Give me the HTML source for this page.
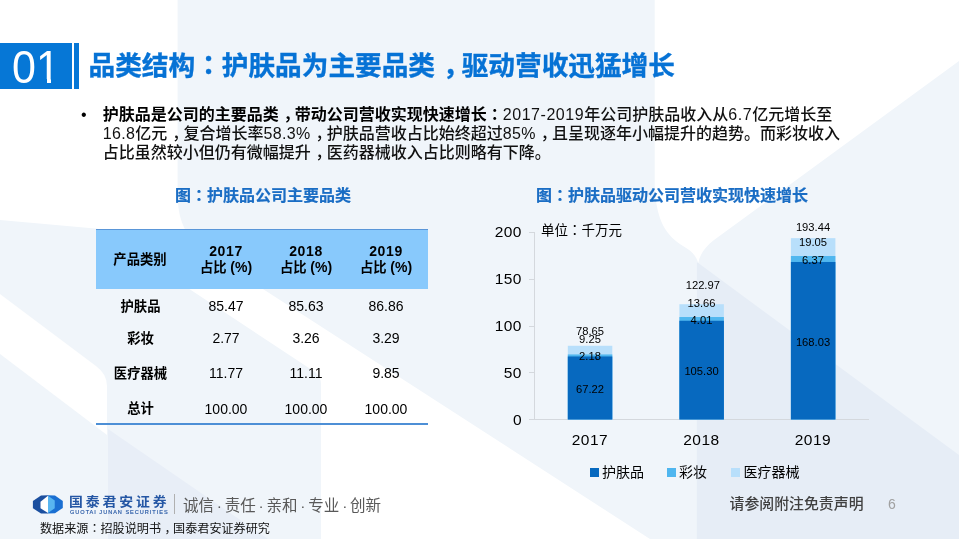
<!DOCTYPE html>
<html>
<head>
<meta charset="utf-8">
<style>
*{margin:0;padding:0;box-sizing:border-box;}
html,body{width:959px;height:539px;overflow:hidden;background:#fff;}
body{position:relative;font-family:"Liberation Sans","Noto Sans CJK SC",sans-serif;color:#000;}
.a{position:absolute;white-space:nowrap;}
#bg{position:absolute;left:0;top:0;width:959px;height:539px;}
.co{font-family:"Liberation Sans","Noto Sans CJK JP",sans-serif;}
.cm{position:relative;left:0.3em;}
.num01{left:0;top:43px;width:72px;height:46px;background:#0677d6;color:#fff;font-size:43px;line-height:46px;text-align:center;}
.bar01{left:74px;top:43px;width:5px;height:46px;background:#0677d6;}
.title{left:88.5px;top:47.5px;font-size:26.67px;line-height:36px;font-weight:bold;color:#0672d5;-webkit-text-stroke:0.35px #0672d5;}
.para{left:102.7px;top:105.3px;font-size:16px;line-height:19px;color:#111;font-weight:500;}
.para b{font-weight:bold;color:#000;}
.bullet{left:81px;top:105.3px;font-size:16px;line-height:19px;}
.cap{font-size:16px;line-height:20px;font-weight:bold;color:#1a6dc4;-webkit-text-stroke:0.2px #1a6dc4;}
.th{background:#88c9fc;border-top:1px solid #5a96d8;}
.tc{font-size:13.33px;line-height:16px;text-align:center;}
.b{font-weight:bold;}
.n{font-size:14px;}
.yr{font-size:14px;letter-spacing:0.6px;}
.tick{font-size:15.5px;line-height:18px;text-align:right;letter-spacing:0.5px;}
.dl{font-size:11.2px;line-height:14px;text-align:center;width:60px;}
.seg{position:absolute;}
.l{letter-spacing:0.55px;}
.l2{letter-spacing:0.38px;}
</style>
</head>
<body>
<svg id="bg" width="959" height="539" viewBox="0 0 959 539">
  <rect x="0" y="0" width="959" height="539" fill="#f0f5fa"/>
  <path d="M0,0 L177.6,0 L177.6,196 Q178,222 190,237 L0,220 Z" fill="#fff"/>
  <path d="M654.7,0 L959,0 L959,61 L714,240 C705,247 700,254 698.3,263 C696,256 692,251 683,246 C667,236 656,222 654.7,185 Z" fill="#fff"/>
  <path d="M0,294 L96,366 Q107,374 107,386 L107,435 L0,354 Z" fill="#fff"/>
  <path d="M97,228 L168.5,228 L650,539 L321,539 L321,384 Q321,377 315,372 Z" fill="#fff"/>
  <path d="M697.6,262.5 L959,455 L959,539 L696.8,539 L696.8,263 Z" fill="#e6edf6"/>
  <path d="M108,429 L268,539 L108,539 Z" fill="#e8eef7"/>
</svg>

<div class="a num01"><span style="display:inline-block;transform:translateY(1.2px) scaleY(1.085);transform-origin:50% 62%;">01</span></div>
<div class="a bar01"></div>
<div class="a" style="left:38px;top:79px;width:8.6px;height:5px;background:#0677d6;"></div>
<div class="a" style="left:50.6px;top:79px;width:9px;height:5px;background:#0677d6;"></div>
<div class="a title">品类结构<span class="co">：</span>护肤品为主要品类<span class="cm">，</span>驱动营收迅猛增长</div>

<div class="a bullet">•</div>
<div class="a para"><b>护肤品是公司的主要品类<span class="cm">，</span>带动公司营收实现快速增长<span class="co">：</span></b><span class="l">2017-2019</span>年公司护肤品收入从<span class="l">6.7</span>亿元增长至<br><span class="l2">16.8</span>亿元<span class="cm">，</span>复合增长率<span class="l2">58.3%</span><span class="cm">，</span>护肤品营收占比始终超过<span class="l2">85%</span><span class="cm">，</span>且呈现逐年小幅提升的趋势。而彩妆收入<br>占比虽然较小但仍有微幅提升<span class="cm">，</span>医药器械收入占比则略有下降。</div>

<!-- left caption + table -->
<div class="a cap" style="left:175px;top:186.3px;">图<span class="co">：</span>护肤品公司主要品类</div>
<div class="a th" style="left:96px;top:229px;width:332px;height:60px;"></div>
<div class="a" style="left:96px;top:423px;width:332px;height:1.5px;background:#4d8fd6;"></div>

<div class="a tc b" style="left:96px;top:251.5px;width:88px;">产品类别</div>
<div class="a tc b" style="left:186px;top:243px;width:80px;"><span class="yr">2017</span></div>
<div class="a tc b" style="left:186px;top:259.4px;width:80px;">占比 <span style="font-size:14px;">(%)</span></div>
<div class="a tc b" style="left:266px;top:243px;width:80px;"><span class="yr">2018</span></div>
<div class="a tc b" style="left:266px;top:259.4px;width:80px;">占比 <span style="font-size:14px;">(%)</span></div>
<div class="a tc b" style="left:346px;top:243px;width:80px;"><span class="yr">2019</span></div>
<div class="a tc b" style="left:346px;top:259.4px;width:80px;">占比 <span style="font-size:14px;">(%)</span></div>

<div class="a tc b" style="left:96.5px;top:298.5px;width:88px;">护肤品</div>
<div class="a tc n" style="left:186px;top:297.5px;width:80px;">85.47</div>
<div class="a tc n" style="left:266px;top:297.5px;width:80px;">85.63</div>
<div class="a tc n" style="left:346px;top:297.5px;width:80px;">86.86</div>

<div class="a tc b" style="left:96.5px;top:331px;width:88px;">彩妆</div>
<div class="a tc n" style="left:186px;top:330px;width:80px;">2.77</div>
<div class="a tc n" style="left:266px;top:330px;width:80px;">3.26</div>
<div class="a tc n" style="left:346px;top:330px;width:80px;">3.29</div>

<div class="a tc b" style="left:96.5px;top:365.5px;width:88px;">医疗器械</div>
<div class="a tc n" style="left:186px;top:364.5px;width:80px;">11.77</div>
<div class="a tc n" style="left:266px;top:364.5px;width:80px;">11.11</div>
<div class="a tc n" style="left:346px;top:364.5px;width:80px;">9.85</div>

<div class="a tc b" style="left:96.5px;top:401px;width:88px;">总计</div>
<div class="a tc n" style="left:186px;top:400.5px;width:80px;">100.00</div>
<div class="a tc n" style="left:266px;top:400.5px;width:80px;">100.00</div>
<div class="a tc n" style="left:346px;top:400.5px;width:80px;">100.00</div>

<!-- right chart -->
<div class="a cap" style="left:536px;top:186.3px;">图<span class="co">：</span>护肤品驱动公司营收实现快速增长</div>

<div class="a" style="left:534px;top:232px;width:1px;height:188px;background:#d4d8dd;"></div>
<div class="a" style="left:534px;top:419px;width:335px;height:1px;background:#d4d8dd;"></div>
<div class="a" style="left:529px;top:232px;width:5px;height:1px;background:#d4d8dd;"></div>
<div class="a" style="left:529px;top:279px;width:5px;height:1px;background:#d4d8dd;"></div>
<div class="a" style="left:529px;top:326px;width:5px;height:1px;background:#d4d8dd;"></div>
<div class="a" style="left:529px;top:372px;width:5px;height:1px;background:#d4d8dd;"></div>
<div class="a" style="left:529px;top:419px;width:5px;height:1px;background:#d4d8dd;"></div>

<div class="a tick" style="left:481px;top:223px;width:41px;">200</div>
<div class="a tick" style="left:481px;top:270px;width:41px;">150</div>
<div class="a tick" style="left:481px;top:317px;width:41px;">100</div>
<div class="a tick" style="left:481px;top:363.5px;width:41px;">50</div>
<div class="a tick" style="left:481px;top:410.5px;width:41px;">0</div>

<div class="a" style="left:541px;top:222px;font-size:13.5px;line-height:18px;">单位<span class="co">：</span>千万元</div>

<!-- bars -->
<svg class="a" style="left:0;top:0;" width="959" height="539" viewBox="0 0 959 539">
  <rect x="567.8" y="345.77" width="44.5" height="73.73" fill="#b8dffb"/>
  <rect x="567.8" y="354.44" width="44.5" height="65.06" fill="#50b7ef"/>
  <rect x="567.8" y="356.48" width="44.5" height="63.02" fill="#0769bf"/>
  <rect x="679.4" y="304.22" width="44.5" height="115.28" fill="#b8dffb"/>
  <rect x="679.4" y="317.02" width="44.5" height="102.48" fill="#50b7ef"/>
  <rect x="679.4" y="320.78" width="44.5" height="98.72" fill="#0769bf"/>
  <rect x="790.9" y="238.15" width="44.5" height="181.35" fill="#b8dffb"/>
  <rect x="790.9" y="256.01" width="44.5" height="163.49" fill="#50b7ef"/>
  <rect x="790.9" y="261.98" width="44.5" height="157.52" fill="#0769bf"/>
</svg>

<!-- data labels -->
<div class="a dl" style="left:560px;top:323.5px;">78.65</div>
<div class="a dl" style="left:560px;top:332.3px;">9.25</div>
<div class="a dl" style="left:560px;top:349.3px;">2.18</div>
<div class="a dl" style="left:560px;top:382px;">67.22</div>

<div class="a dl" style="left:672.8px;top:277.6px;">122.97</div>
<div class="a dl" style="left:671.5px;top:296px;">13.66</div>
<div class="a dl" style="left:671.5px;top:313px;">4.01</div>
<div class="a dl" style="left:671.5px;top:364.2px;">105.30</div>

<div class="a dl" style="left:783px;top:220px;">193.44</div>
<div class="a dl" style="left:783px;top:235px;">19.05</div>
<div class="a dl" style="left:783px;top:252.9px;">6.37</div>
<div class="a dl" style="left:783px;top:335.2px;">168.03</div>

<!-- x labels -->
<div class="a tick" style="left:560px;top:431px;width:60px;text-align:center;">2017</div>
<div class="a tick" style="left:671.5px;top:431px;width:60px;text-align:center;">2018</div>
<div class="a tick" style="left:783px;top:431px;width:60px;text-align:center;">2019</div>

<!-- legend -->
<div class="a" style="left:590px;top:468px;width:9px;height:9px;background:#0769bf;"></div>
<div class="a" style="left:602px;top:462px;font-size:14px;line-height:20px;">护肤品</div>
<div class="a" style="left:667px;top:468px;width:9px;height:9px;background:#4fb6ef;"></div>
<div class="a" style="left:679px;top:462px;font-size:14px;line-height:20px;">彩妆</div>
<div class="a" style="left:731px;top:468px;width:9px;height:9px;background:#b8dffb;"></div>
<div class="a" style="left:743.5px;top:462px;font-size:14px;line-height:20px;">医疗器械</div>

<!-- footer -->
<svg class="a" style="left:32px;top:494px;" width="32" height="21" viewBox="0 0 32 21">
  <polygon points="0.9,6.9 9,1.5 16,1.3 16,19.5 9,19.4 0.9,14.2" fill="#1b4f9f"/>
  <polygon points="16,1.3 23,1.5 30.8,6.9 30.8,13.9 23,19.2 16,19.5" fill="#1a6fd2"/>
  <polygon points="8.5,7.7 16,1.7 16,19.1 8.5,14.2" fill="#fff"/>
  <polygon points="16,1.7 22.75,6.4 22.75,14.2 16,19.1" fill="#58b5f0"/>
</svg>
<div class="a" style="left:69px;top:494.5px;font-size:12.6px;line-height:15px;font-weight:bold;color:#2456a4;letter-spacing:2.65px;transform:scaleX(1.1);transform-origin:0 50%;">国泰君安证券</div>
<div class="a" style="left:70px;top:510px;font-size:5.6px;line-height:5px;color:#2456a4;letter-spacing:0.97px;-webkit-text-stroke:0.15px #2456a4;">GUOTAI JUNAN SECURITIES</div>
<div class="a" style="left:173.5px;top:494px;width:1px;height:20px;background:#b0b0b0;"></div>
<div class="a" style="left:183px;top:496px;font-size:15.5px;line-height:20px;color:#595959;word-spacing:-1.5px;">诚信 · 责任 · 亲和 · 专业 · 创新</div>
<div class="a" style="left:40px;top:520.5px;font-size:12.1px;line-height:16px;color:#111;">数据来源<span class="co">：</span>招股说明书<span class="cm">，</span>国泰君安证券研究</div>

<div class="a" style="left:729.5px;top:494px;font-size:14.9px;line-height:20px;color:#404040;font-weight:500;">请参阅附注免责声明</div>
<div class="a" style="left:888px;top:494px;font-size:14px;line-height:20px;color:#a0a0a0;">6</div>

</body>
</html>
